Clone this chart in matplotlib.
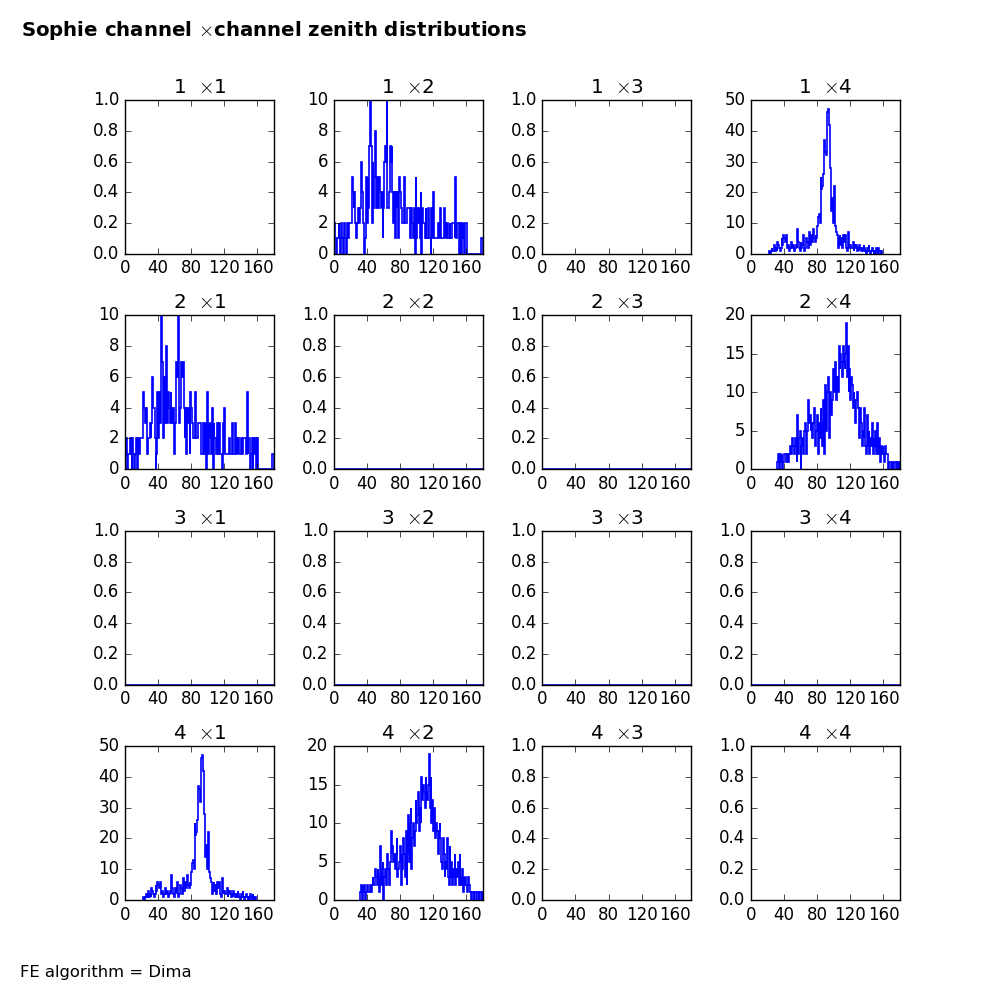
import numpy as np
import matplotlib
matplotlib.use("Agg")
import matplotlib.pyplot as plt

plt.style.use("classic")

# zenith bins, 1 degree wide from 0 to 180
edges = np.arange(0, 181, 1)
centers = edges[:-1] + 0.5

# channel 1 x channel 2 (same as 2 x 1)
counts_12 = [
    1, 2, 1, 0, 1, 1, 2, 1, 0, 2,
    1, 0, 1, 2, 1, 0, 2, 1, 2, 2,
    2, 2, 5, 4, 3, 4, 2, 1, 2, 2,
    3, 2, 3, 6, 4, 4, 2, 0, 1, 5,
    2, 5, 3, 7, 10, 7, 2, 6, 3, 5,
    8, 3, 5, 4, 3, 5, 4, 3, 4, 1,
    3, 6, 7, 6, 10, 3, 3, 4, 7, 6,
    7, 4, 2, 4, 1, 4, 3, 4, 1, 5,
    4, 3, 2, 2, 2, 5, 2, 2, 3, 3,
    3, 3, 1, 1, 3, 2, 1, 3, 0, 5,
    1, 3, 2, 3, 1, 4, 0, 3, 2, 2,
    1, 3, 1, 1, 3, 1, 1, 0, 3, 1,
    4, 1, 1, 1, 1, 1, 2, 1, 1, 3,
    1, 1, 1, 3, 1, 2, 1, 2, 1, 1,
    2, 1, 1, 2, 2, 2, 1, 5, 1, 2,
    2, 0, 1, 2, 0, 2, 1, 2, 0, 2,
    2, 0, 0, 0, 0, 0, 0, 0, 0, 0,
    0, 0, 0, 0, 0, 0, 0, 0, 1, 1,
]

# channel 1 x channel 4 (same as 4 x 1)
counts_14 = [
    0, 0, 0, 0, 0, 0, 0, 0, 0, 0,
    0, 0, 0, 0, 0, 0, 0, 0, 0, 0,
    0, 0, 1, 0, 1, 2, 1, 1, 3, 1,
    2, 1, 4, 3, 2, 1, 2, 5, 3, 6,
    5, 4, 6, 3, 2, 3, 1, 2, 4, 3,
    2, 3, 1, 2, 3, 2, 8, 4, 2, 1,
    4, 2, 3, 6, 1, 2, 3, 5, 4, 2,
    7, 3, 5, 6, 4, 8, 5, 4, 6, 5,
    9, 12, 13, 10, 25, 21, 22, 26, 37, 36,
    33, 32, 46, 47, 42, 41, 28, 14, 18, 10,
    22, 13, 9, 7, 6, 2, 5, 6, 3, 5,
    2, 6, 4, 5, 6, 2, 1, 7, 3, 2,
    3, 2, 2, 4, 1, 3, 2, 3, 1, 2,
    1, 3, 2, 1, 2, 1, 3, 2, 1, 0,
    2, 1, 3, 1, 0, 1, 2, 1, 0, 1,
    0, 2, 1, 0, 2, 1, 0, 1, 0, 0,
    0, 0, 0, 0, 0, 0, 0, 0, 0, 0,
    0, 0, 0, 0, 0, 0, 0, 0, 0, 0,
]

# channel 2 x channel 4 (same as 4 x 2)
counts_24 = [
    0, 0, 0, 0, 0, 0, 0, 0, 0, 0,
    0, 0, 0, 0, 0, 0, 0, 0, 0, 0,
    0, 0, 0, 0, 0, 0, 0, 0, 0, 0,
    0, 0, 1, 2, 0, 2, 1, 2, 0, 1,
    2, 2, 1, 1, 2, 1, 2, 3, 2, 2,
    4, 3, 2, 4, 3, 1, 7, 2, 4, 5,
    0, 3, 4, 2, 5, 6, 4, 2, 5, 9,
    6, 7, 5, 6, 4, 6, 8, 3, 4, 5,
    7, 2, 6, 4, 8, 6, 3, 9, 2, 6,
    11, 5, 10, 12, 4, 8, 10, 7, 9, 13,
    10, 11, 14, 9, 12, 10, 16, 13, 15, 14,
    12, 16, 14, 13, 15, 19, 12, 16, 10, 13,
    9, 12, 11, 8, 10, 9, 6, 9, 10, 8,
    5, 4, 8, 6, 3, 5, 4, 8, 3, 2,
    7, 3, 5, 2, 4, 3, 6, 2, 4, 3,
    5, 2, 6, 3, 2, 4, 1, 3, 2, 3,
    2, 1, 3, 2, 2, 1, 0, 1, 1, 0,
    1, 1, 0, 1, 1, 0, 1, 1, 0, 1,
]

zeros = [0] * 180

# which histogram sits in which (row, col); None means nothing drawn
panels = {
    (1, 2): counts_12, (2, 1): counts_12,
    (1, 4): counts_14, (4, 1): counts_14,
    (2, 4): counts_24, (4, 2): counts_24,
    (2, 2): zeros, (2, 3): zeros,
    (3, 1): zeros, (3, 2): zeros, (3, 3): zeros, (3, 4): zeros,
}

fig, axes = plt.subplots(4, 4, figsize=(10, 10), dpi=100)
fig.patch.set_facecolor("white")
plt.subplots_adjust(left=0.125, right=0.9, top=0.9, bottom=0.1,
                    wspace=0.4, hspace=0.4)

for i in range(4):
    for j in range(4):
        ax = axes[i, j]
        data = panels.get((i + 1, j + 1))
        if data is not None:
            w = np.array(data)
            nz = np.nonzero(w)[0]
            if len(nz):
                # only span the range the data covers
                lo, hi = nz[0], nz[-1] + 1
            else:
                lo, hi = 0, len(w)
            ax.hist(centers[lo:hi], bins=edges[lo:hi + 1], weights=w[lo:hi],
                    histtype="step", color="b", linewidth=1.2)
        ax.set_xlim(0, 180)
        ax.set_xticks([0, 40, 80, 120, 160])
        if data is None or max(data) == 0:
            ax.set_ylim(0, 1)
        else:
            ax.set_ylim(bottom=0)
        ax.set_title(r"%d  $\times$%d" % (i + 1, j + 1))

fig.text(0.021, 0.97, r"Sophie channel $\times$channel zenith distributions",
         fontsize=14.2, fontweight="bold", va="center", ha="left")
fig.text(0.02, 0.028, "FE algorithm = Dima", fontsize=11.8, va="center", ha="left")

plt.savefig("out.png", dpi=100)
